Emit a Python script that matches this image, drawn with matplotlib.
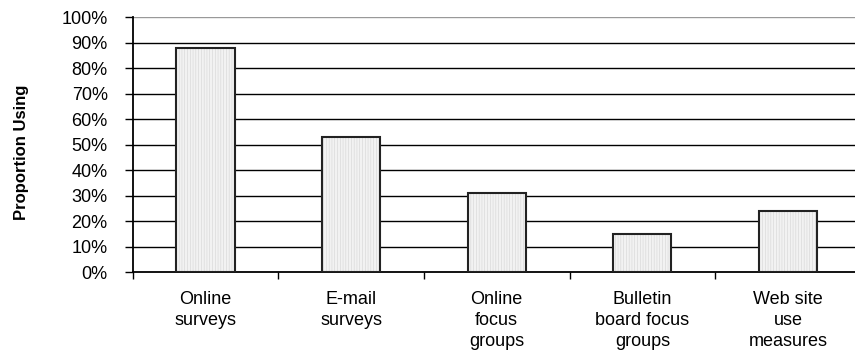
import matplotlib.pyplot as plt
from matplotlib.ticker import FuncFormatter

categories = ["Online\nsurveys", "E-mail\nsurveys", "Online\nfocus\ngroups",
              "Bulletin\nboard focus\ngroups", "Web site\nuse\nmeasures"]
proportions = [88, 53, 31, 15, 24]
y_ticks = list(range(0, 101, 10))

plt.rcParams["font.family"] = ["Liberation Sans", "DejaVu Sans"]
plt.rcParams["hatch.linewidth"] = 0.4

fig = plt.figure(figsize=(8.55, 3.6), dpi=100)
ax = fig.add_axes([0.1552, 0.2444, 0.8515, 0.7076])

x = range(len(categories))
# textured fill first, then the black outline on top
ax.bar(x, proportions, width=0.4, color="#f2f2f2", edgecolor="#d4d4d4",
       linewidth=0, hatch="||||||", zorder=3)
ax.bar(x, proportions, width=0.4, fill=False, edgecolor="#222222",
       linewidth=1.5, zorder=4)

ax.set_xlim(-0.5, len(categories) - 0.5)
ax.set_ylim(0, 100)

# horizontal gridlines, the top one drawn lighter
for t in y_ticks[1:]:
    ax.axhline(t, color="#999999" if t == 100 else "black", linewidth=1.0, zorder=1)

ax.set_yticks(y_ticks)
ax.yaxis.set_major_formatter(FuncFormatter(lambda v, p: f"{int(v)}%"))
ax.tick_params(axis="y", direction="out", length=6, width=1, labelsize=13, pad=12)

# category separators as x ticks
ax.set_xticks([i + 0.5 for i in range(-1, len(categories))], minor=False)
ax.set_xticklabels([])
ax.set_xticks(list(x), minor=True)
ax.set_xticklabels(categories, minor=True, fontsize=13, linespacing=1.3,
                   va="top", ha="center")
ax.tick_params(axis="x", which="major", direction="out", length=5, width=1)
ax.tick_params(axis="x", which="minor", length=0, pad=14)

for side in ["top", "right"]:
    ax.spines[side].set_visible(False)
ax.spines["left"].set_linewidth(1.3)
ax.spines["bottom"].set_linewidth(1.3)

ax.set_ylabel("Proportion Using", fontsize=12, fontweight="bold")
ax.yaxis.set_label_coords(-0.142, 0.47)

plt.savefig("out.png", dpi=100)
